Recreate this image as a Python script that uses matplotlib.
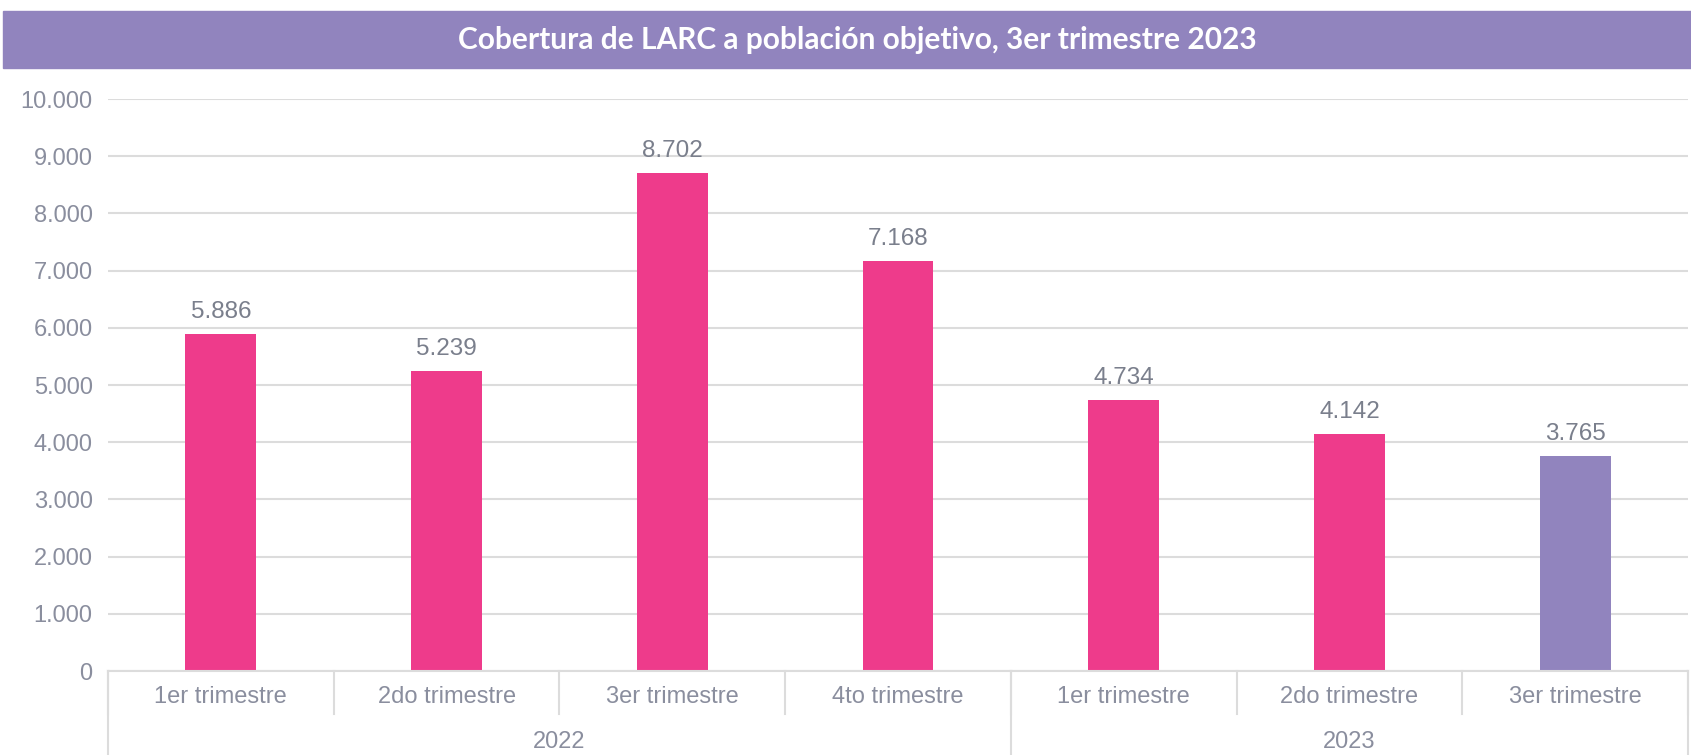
import matplotlib
matplotlib.use("Agg")
import matplotlib.pyplot as plt
from matplotlib.patches import Rectangle
from matplotlib import transforms

# data
quarters = ["1er trimestre", "2do trimestre", "3er trimestre", "4to trimestre",
            "1er trimestre", "2do trimestre", "3er trimestre"]
years = ["2022", "2023"]
year_sizes = [4, 3]
values = [5886, 5239, 8702, 7168, 4734, 4142, 3765]
title = "Cobertura de LARC a población objetivo, 3er trimestre 2023"

pink = "#EE3B8B"
purple = "#9184BE"
text_gray = "#8A8E9E"
label_gray = "#7A7F8C"
line_gray = "#DCDCDC"

colors = [pink] * (len(values) - 1) + [purple]

plt.rcParams["font.family"] = ["Liberation Sans", "DejaVu Sans"]

W, H = 1691, 755
fig = plt.figure(figsize=(W / 100, H / 100), dpi=100)
ax = fig.add_axes([108 / W, 84 / H, 1580 / W, 572 / H])

x = list(range(len(values)))
ax.bar(x, values, width=0.314, color=colors, zorder=3)

for xi, v in zip(x, values):
    lbl = f"{v:,}".replace(",", ".")
    ax.annotate(lbl, (xi, v), xytext=(0, 8), textcoords="offset points",
                ha="center", va="bottom", fontsize=17.5, color=label_gray)

ax.set_xlim(-0.5, len(values) - 0.5)
ax.set_ylim(0, 10000)
yt = list(range(0, 10001, 1000))
ax.set_yticks(yt)
ax.set_yticklabels([f"{t:,}".replace(",", ".") for t in yt])
ax.tick_params(axis="y", length=0, pad=11, labelsize=17, labelcolor=text_gray)
ax.grid(axis="y", color=line_gray, linewidth=1.5, zorder=0)
for s in ax.spines.values():
    s.set_visible(False)

ax.set_xticks(x)
ax.set_xticklabels(quarters)
ax.tick_params(axis="x", length=0, pad=11, labelsize=17, labelcolor=text_gray)

# two-level category axis
trans = transforms.blended_transform_factory(ax.transData, fig.transFigure)
y0 = 84 / H
ax.plot([-0.5, len(values) - 0.5], [y0, y0], transform=trans, color=line_gray,
        lw=1.5, clip_on=False, zorder=4)
for i in range(len(values) + 1):
    ax.plot([i - 0.5, i - 0.5], [y0, y0 - 43 / H], transform=trans,
            color=line_gray, lw=1.5, clip_on=False)
start = 0
for yr, n in zip(years, year_sizes):
    ax.plot([start - 0.5, start - 0.5], [y0, 0], transform=trans,
            color=line_gray, lw=1.5, clip_on=False)
    ax.text(start + (n - 1) / 2, 13 / H, yr, transform=trans, ha="center",
            va="center", fontsize=17, color=text_gray)
    start += n
ax.plot([start - 0.5, start - 0.5], [y0, 0], transform=trans,
        color=line_gray, lw=1.5, clip_on=False)

# title band
fig.patches.append(Rectangle((3 / W, (H - 68) / H), 1 - 3 / W, 57 / H,
                             transform=fig.transFigure, color=purple, zorder=0))
fig.text(857 / W, (H - 39.5) / H, title, ha="center", va="center", color="white",
         fontsize=21.5, fontweight="bold", family=["Lato", "DejaVu Sans"])

fig.savefig("out.png", dpi=100, facecolor="white")
